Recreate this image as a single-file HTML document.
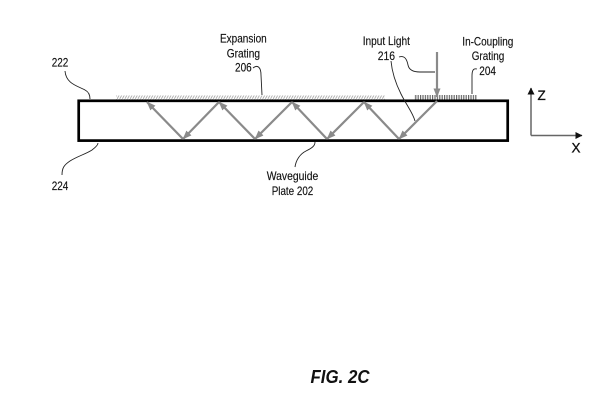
<!DOCTYPE html>
<html>
<head>
<meta charset="utf-8">
<style>
  html,body{margin:0;padding:0;background:#fff;}
  svg{display:block;}
  text{font-family:"Liberation Sans",Arial,sans-serif;fill:#111;}
</style>
</head>
<body>
<svg width="600" height="418" viewBox="0 0 600 418" xmlns="http://www.w3.org/2000/svg">
  <defs>
    <marker id="ah" markerUnits="userSpaceOnUse" markerWidth="9" markerHeight="7" refX="8.5" refY="3.5" orient="auto">
      <path d="M0,0 L9,3.5 L0,7 z" fill="#8a8a8a"/>
    </marker>
    <marker id="axh" markerUnits="userSpaceOnUse" markerWidth="7" markerHeight="7" refX="6.5" refY="3.5" orient="auto">
      <path d="M0,0 L7,3.5 L0,7 z" fill="#111"/>
    </marker>
    <pattern id="hatch" patternUnits="userSpaceOnUse" width="2.6" height="4.5">
      <line x1="0" y1="4.5" x2="2.6" y2="0" stroke="#a8a8a8" stroke-width="0.9"/>
    </pattern>
    <pattern id="ticks" patternUnits="userSpaceOnUse" width="2.4" height="6">
      <rect x="0" y="0" width="1.2" height="6" fill="#666"/>
    </pattern>
  </defs>

  <!-- expansion grating hatch -->
  <rect x="116" y="95.5" width="269" height="4" fill="url(#hatch)"/>
  <!-- in-coupling grating ticks -->
  <rect x="414" y="95" width="63" height="5" fill="url(#ticks)"/>

  <!-- waveguide plate -->
  <rect x="78.7" y="100.8" width="429" height="39.8" fill="none" stroke="#000" stroke-width="2.7"/>

  <!-- light rays -->
  <g stroke="#8a8a8a" stroke-width="2.2" fill="none" marker-end="url(#ah)">
    <line x1="437" y1="52" x2="437" y2="97"/>
    <line x1="437" y1="101" x2="399" y2="139"/>
    <line x1="399" y1="139" x2="364" y2="102"/>
    <line x1="364" y1="102" x2="327" y2="139"/>
    <line x1="327" y1="139" x2="292" y2="102"/>
    <line x1="292" y1="102" x2="255" y2="139"/>
    <line x1="255" y1="139" x2="219" y2="102"/>
    <line x1="219" y1="102" x2="183" y2="139"/>
    <line x1="183" y1="139" x2="147" y2="102"/>
  </g>

  <!-- leader lines -->
  <g stroke="#222" stroke-width="0.9" fill="none">
    <path d="M253,68 C258,64 261,68 261,75 L262,95"/>
    <path d="M65,71 C66,84 78,86 85,90 C89,92 90,95 90,99"/>
    <path d="M62,175 C62,168 64,165 70,161 C78,156 86,154 92,150 C96,147 98,145 98,143"/>
    <path d="M295,167 C296,160 300,154 306,151 C312,148 315,146 315,142"/>
    <path d="M399,57 C405,55 407,60 408,65 C409,70 414,72 420,72 L435,72"/>
    <path d="M391,61 C392,72 395,82 401,94 C407,106 413,113 415,121"/>
    <path d="M477,69 C473,68 472,71 472,76 L472,94"/>
  </g>

  <!-- axes -->
  <g stroke="#666" stroke-width="1.5" fill="none">
    <line x1="531" y1="135.5" x2="531" y2="88" marker-end="url(#axh)"/>
    <line x1="531" y1="135.5" x2="582" y2="135.5" marker-end="url(#axh)"/>
  </g>

  <!-- labels -->
  <g font-size="12" stroke="#111" stroke-width="0.15">
    <text x="220" y="42.5" textLength="46.7" lengthAdjust="spacingAndGlyphs">Expansion</text>
    <text x="226.7" y="57.5" textLength="33.3" lengthAdjust="spacingAndGlyphs">Grating</text>
    <text x="235" y="71.7" textLength="16.7" lengthAdjust="spacingAndGlyphs">206</text>
    <text x="51.7" y="66.7" textLength="16.6" lengthAdjust="spacingAndGlyphs">222</text>
    <text x="51.7" y="190" textLength="16.6" lengthAdjust="spacingAndGlyphs">224</text>
    <text x="266.7" y="180" textLength="51.6" lengthAdjust="spacingAndGlyphs">Waveguide</text>
    <text x="271.7" y="195" textLength="41.6" lengthAdjust="spacingAndGlyphs">Plate 202</text>
    <text x="362.7" y="45" textLength="47.3" lengthAdjust="spacingAndGlyphs">Input Light</text>
    <text x="377.7" y="60" textLength="17.3" lengthAdjust="spacingAndGlyphs">216</text>
    <text x="462.3" y="45.5" textLength="51" lengthAdjust="spacingAndGlyphs">In-Coupling</text>
    <text x="471.7" y="60" textLength="32.6" lengthAdjust="spacingAndGlyphs">Grating</text>
    <text x="479.3" y="75" textLength="16.7" lengthAdjust="spacingAndGlyphs">204</text>
  </g>
  <text x="537.5" y="100" font-size="13.5" stroke="#111" stroke-width="0.3">Z</text>
  <text x="571.5" y="152.5" font-size="13.5" stroke="#111" stroke-width="0.3">X</text>

  <text x="310.5" y="383" font-size="18.5" font-weight="bold" font-style="italic" textLength="59" lengthAdjust="spacingAndGlyphs">FIG. 2C</text>
</svg>
</body>
</html>
